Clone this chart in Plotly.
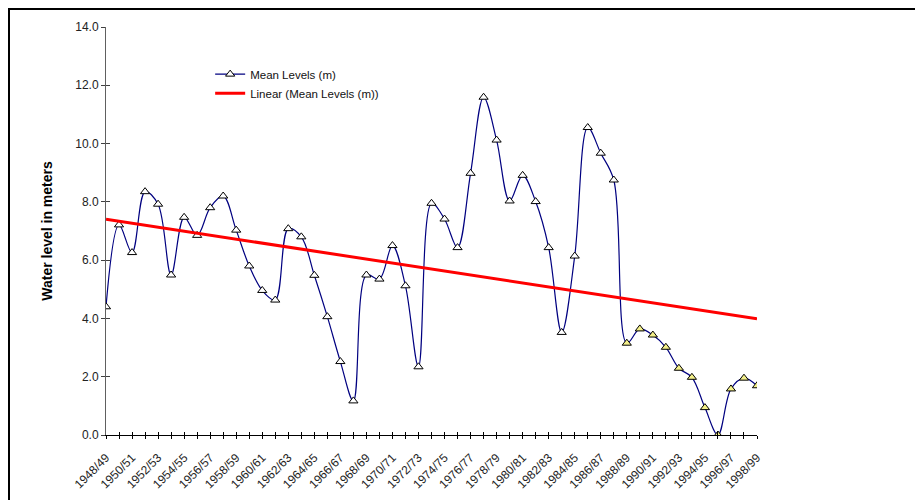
import numpy as np
import plotly.graph_objects as go

years = [f"{y}/{str(y + 1)[-2:]}" for y in range(1948, 1999)]
levels = [4.40, 7.21, 6.26, 8.35, 7.92, 5.49, 7.47, 6.85, 7.80, 8.20,
          7.03, 5.80, 4.96, 4.63, 7.08, 6.80, 5.48, 4.06, 2.52, 1.17,
          5.49, 5.35, 6.50, 5.12, 2.34, 7.95, 7.41, 6.43, 8.98, 11.59,
          10.12, 8.03, 8.91, 8.01, 6.43, 3.52, 6.14, 10.55, 9.67, 8.75,
          3.15, 3.64, 3.43, 3.01, 2.29, 1.98, 0.94, 0.00, 1.58, 1.95, 1.69]
y_ticks = [0, 2, 4, 6, 8, 10, 12, 14]

n = len(years)
xs = np.arange(n)
marker_fill = ["#ffffff" if i < 40 else "#f3ef8a" for i in range(n)]

slope, intercept = np.polyfit(xs, levels, 1)
trend = slope * xs + intercept

fig = go.Figure()
fig.add_trace(go.Scatter(
    x=xs, y=levels, mode="lines+markers", name="Mean Levels (m)",
    line=dict(color="#000080", width=1.2, shape="spline", smoothing=1.0),
    marker=dict(symbol="triangle-up", size=8, color=marker_fill,
                line=dict(color="#000000", width=1)),
))
fig.add_trace(go.Scatter(
    x=xs, y=trend, mode="lines", name="Linear (Mean Levels (m))",
    line=dict(color="#ff0000", width=3),
))

ticktext = [lab if i % 2 == 0 else "" for i, lab in enumerate(years)]

fig.update_layout(
    width=915, height=492,
    margin=dict(l=98, r=166, t=19, b=65),
    paper_bgcolor="white", plot_bgcolor="white",
    font=dict(family="Liberation Sans, Arial, sans-serif", size=12, color="#222222"),
    showlegend=True,
    legend=dict(x=0.16, y=0.92, xanchor="left", yanchor="top",
                bgcolor="rgba(0,0,0,0)", font=dict(size=11.5, color="#111111"),
                tracegroupgap=0, itemwidth=30),
    xaxis=dict(
        range=[0, n - 1], tickmode="array", tickvals=list(xs), ticktext=ticktext,
        tickangle=-45, showgrid=False, zeroline=False, showline=True,
        linecolor="#000000", linewidth=1, ticks="outside", ticklen=3,
        tickcolor="#000000", tickfont=dict(size=12), ticklabelstandoff=7,
        automargin=False,
    ),
    xaxis2=dict(
        range=[0, n - 1], overlaying="x", tickmode="array", tickvals=list(xs),
        showticklabels=False, showgrid=False, zeroline=False, showline=False,
        ticks="inside", ticklen=3, tickcolor="#000000", anchor="y",
        automargin=False,
    ),
    yaxis=dict(
        range=[0, 14], tickmode="array", tickvals=y_ticks,
        ticktext=[f"{v:.1f}" for v in y_ticks],
        showgrid=False, zeroline=False, showline=True, linecolor="#606060",
        linewidth=1, ticks="outside", ticklen=4, tickcolor="#404040",
        tickfont=dict(size=12),
        title=dict(text="<b>Water level in meters</b>", font=dict(size=14, color="#000000"),
                   standoff=19),
    ),
    yaxis2=dict(
        range=[0, 14], overlaying="y", tickmode="array", tickvals=y_ticks,
        showticklabels=False, showgrid=False, zeroline=False, showline=False,
        ticks="inside", ticklen=4, tickcolor="#404040", anchor="x", side="left",
    ),
)
# invisible helper traces so the crossing-tick axes render
fig.add_trace(go.Scatter(x=[0], y=[0], xaxis="x2", yaxis="y", mode="markers",
                         marker=dict(opacity=0), showlegend=False, hoverinfo="skip"))
fig.add_trace(go.Scatter(x=[0], y=[0], xaxis="x", yaxis="y2", mode="markers",
                         marker=dict(opacity=0), showlegend=False, hoverinfo="skip"))

fig.add_shape(type="rect", xref="paper", yref="paper",
              x0=-0.149, x1=1.3, y0=-0.3, y1=1.0441,
              line=dict(color="#000000", width=2), layer="above")

fig.write_html("out.html")
